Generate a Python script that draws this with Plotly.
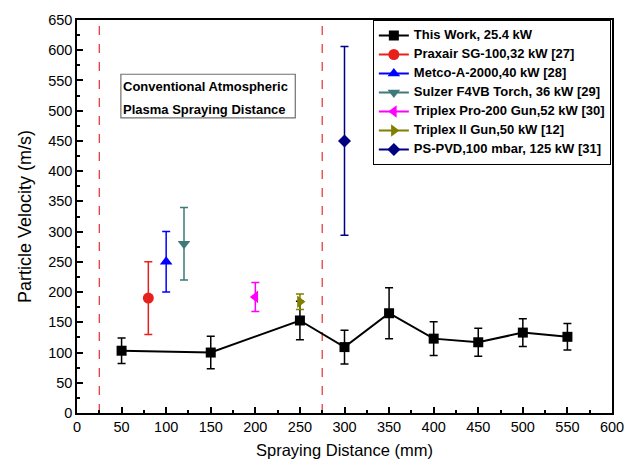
import plotly.graph_objects as go

# This work
this_name = "This Work, 25.4 kW"
this_x = [50, 150, 250, 300, 350, 400, 450, 500, 550]
this_y = [103, 100, 153, 109, 165, 123, 117, 133, 126]
this_err = [21, 27, 32, 28, 42, 28, 23, 23, 22]

# literature points
lit_names = ["Praxair SG-100,32 kW [27]", "Metco-A-2000,40 kW [28]", "Sulzer F4VB Torch, 36 kW [29]",
             "Triplex Pro-200 Gun,52 kW [30]", "Triplex II Gun,50 kW [12]", "PS-PVD,100 mbar, 125 kW [31]"]
lit_x = [80, 100, 120, 200, 250, 300]
lit_y = [190, 250, 280, 192, 184, 450]
lit_err = [60, 50, 60, 24, 13, 156]
lit_colors = ["#e8201c", "#0000ff", "#3f7a78", "#ff00ff", "#7f7f00", "#000080"]
lit_symbols = ["circle", "triangle-up", "triangle-down", "triangle-left", "triangle-right", "diamond"]

region_bounds = [25, 275]

x_ticks = list(range(0, 601, 50))
y_ticks = list(range(0, 651, 50))

FONT = "Arial, Liberation Sans, sans-serif"


def leg(name):
    return '<span style="font-size:13px">' + name + '</span>'


fig = go.Figure()
fig.add_trace(go.Scatter(
    x=this_x, y=this_y, mode="lines+markers", name=leg(this_name),
    line=dict(color="black", width=2),
    marker=dict(symbol="square", size=10, color="black"),
    error_y=dict(type="data", array=this_err, color="black", thickness=1.5, width=4),
))
for n, xv, yv, e, c, s in zip(lit_names, lit_x, lit_y, lit_err, lit_colors, lit_symbols):
    fig.add_trace(go.Scatter(
        x=[xv], y=[yv], mode="lines+markers", name=leg(n),
        line=dict(color=c, width=2),
        marker=dict(symbol=s, size=11 if s != "diamond" else 10, color=c),
        error_y=dict(type="data", array=[e], color=c, thickness=1.5, width=4),
    ))

for b in region_bounds:
    fig.add_shape(type="line", xref="x", yref="paper", x0=b, x1=b, y0=0, y1=1,
                  line=dict(color="#e03030", width=1.2, dash="dash"), layer="below")

# annotation box
fig.add_shape(type="rect", xref="paper", yref="paper", x0=0.082, x1=0.408, y0=0.751, y1=0.862,
              line=dict(color="#707070", width=1.2), fillcolor="white")
fig.add_annotation(xref="paper", yref="paper", x=0.082, y=0.830, xanchor="left", yanchor="middle",
                   text="<b>Conventional Atmospheric</b>", showarrow=False,
                   font=dict(family=FONT, size=13, color="black"))
fig.add_annotation(xref="paper", yref="paper", x=0.082, y=0.772, xanchor="left", yanchor="middle",
                   text="<b>Plasma Spraying Distance</b>", showarrow=False,
                   font=dict(family=FONT, size=13, color="black"))

axis_common = dict(
    showline=True, linecolor="black", linewidth=1.5, mirror=True,
    ticks="inside", ticklen=6, tickwidth=1.5, tickcolor="black",
    showgrid=False, zeroline=False,
    tickfont=dict(family=FONT, size=14.5, color="black"),
    minor=dict(ticks="inside", ticklen=3, tickwidth=1.5, tickcolor="black", dtick=25, showgrid=False),
)

fig.update_layout(
    width=637, height=472,
    margin=dict(l=77, r=25, t=15, b=59),
    paper_bgcolor="white", plot_bgcolor="white",
    font=dict(family=FONT, color="black"),
    showlegend=True,
    legend=dict(x=0.553, y=1.0, xanchor="left", yanchor="top",
                bgcolor="white", bordercolor="black", borderwidth=1,
                font=dict(family=FONT, size=10, color="black", weight="bold"),
                tracegroupgap=0, itemwidth=30),
    xaxis=dict(range=[0, 600], tickvals=x_ticks,
               title=dict(text="Spraying Distance (mm)", font=dict(family=FONT, size=16.5), standoff=10),
               **axis_common),
    yaxis=dict(range=[0, 650], tickvals=y_ticks,
               title=dict(text="Particle Velocity (m/s)", font=dict(family=FONT, size=18), standoff=12),
               **axis_common),
)

fig.write_html("out.html", config={"displayModeBar": False},
               post_script="document.body.style.margin='0';")
